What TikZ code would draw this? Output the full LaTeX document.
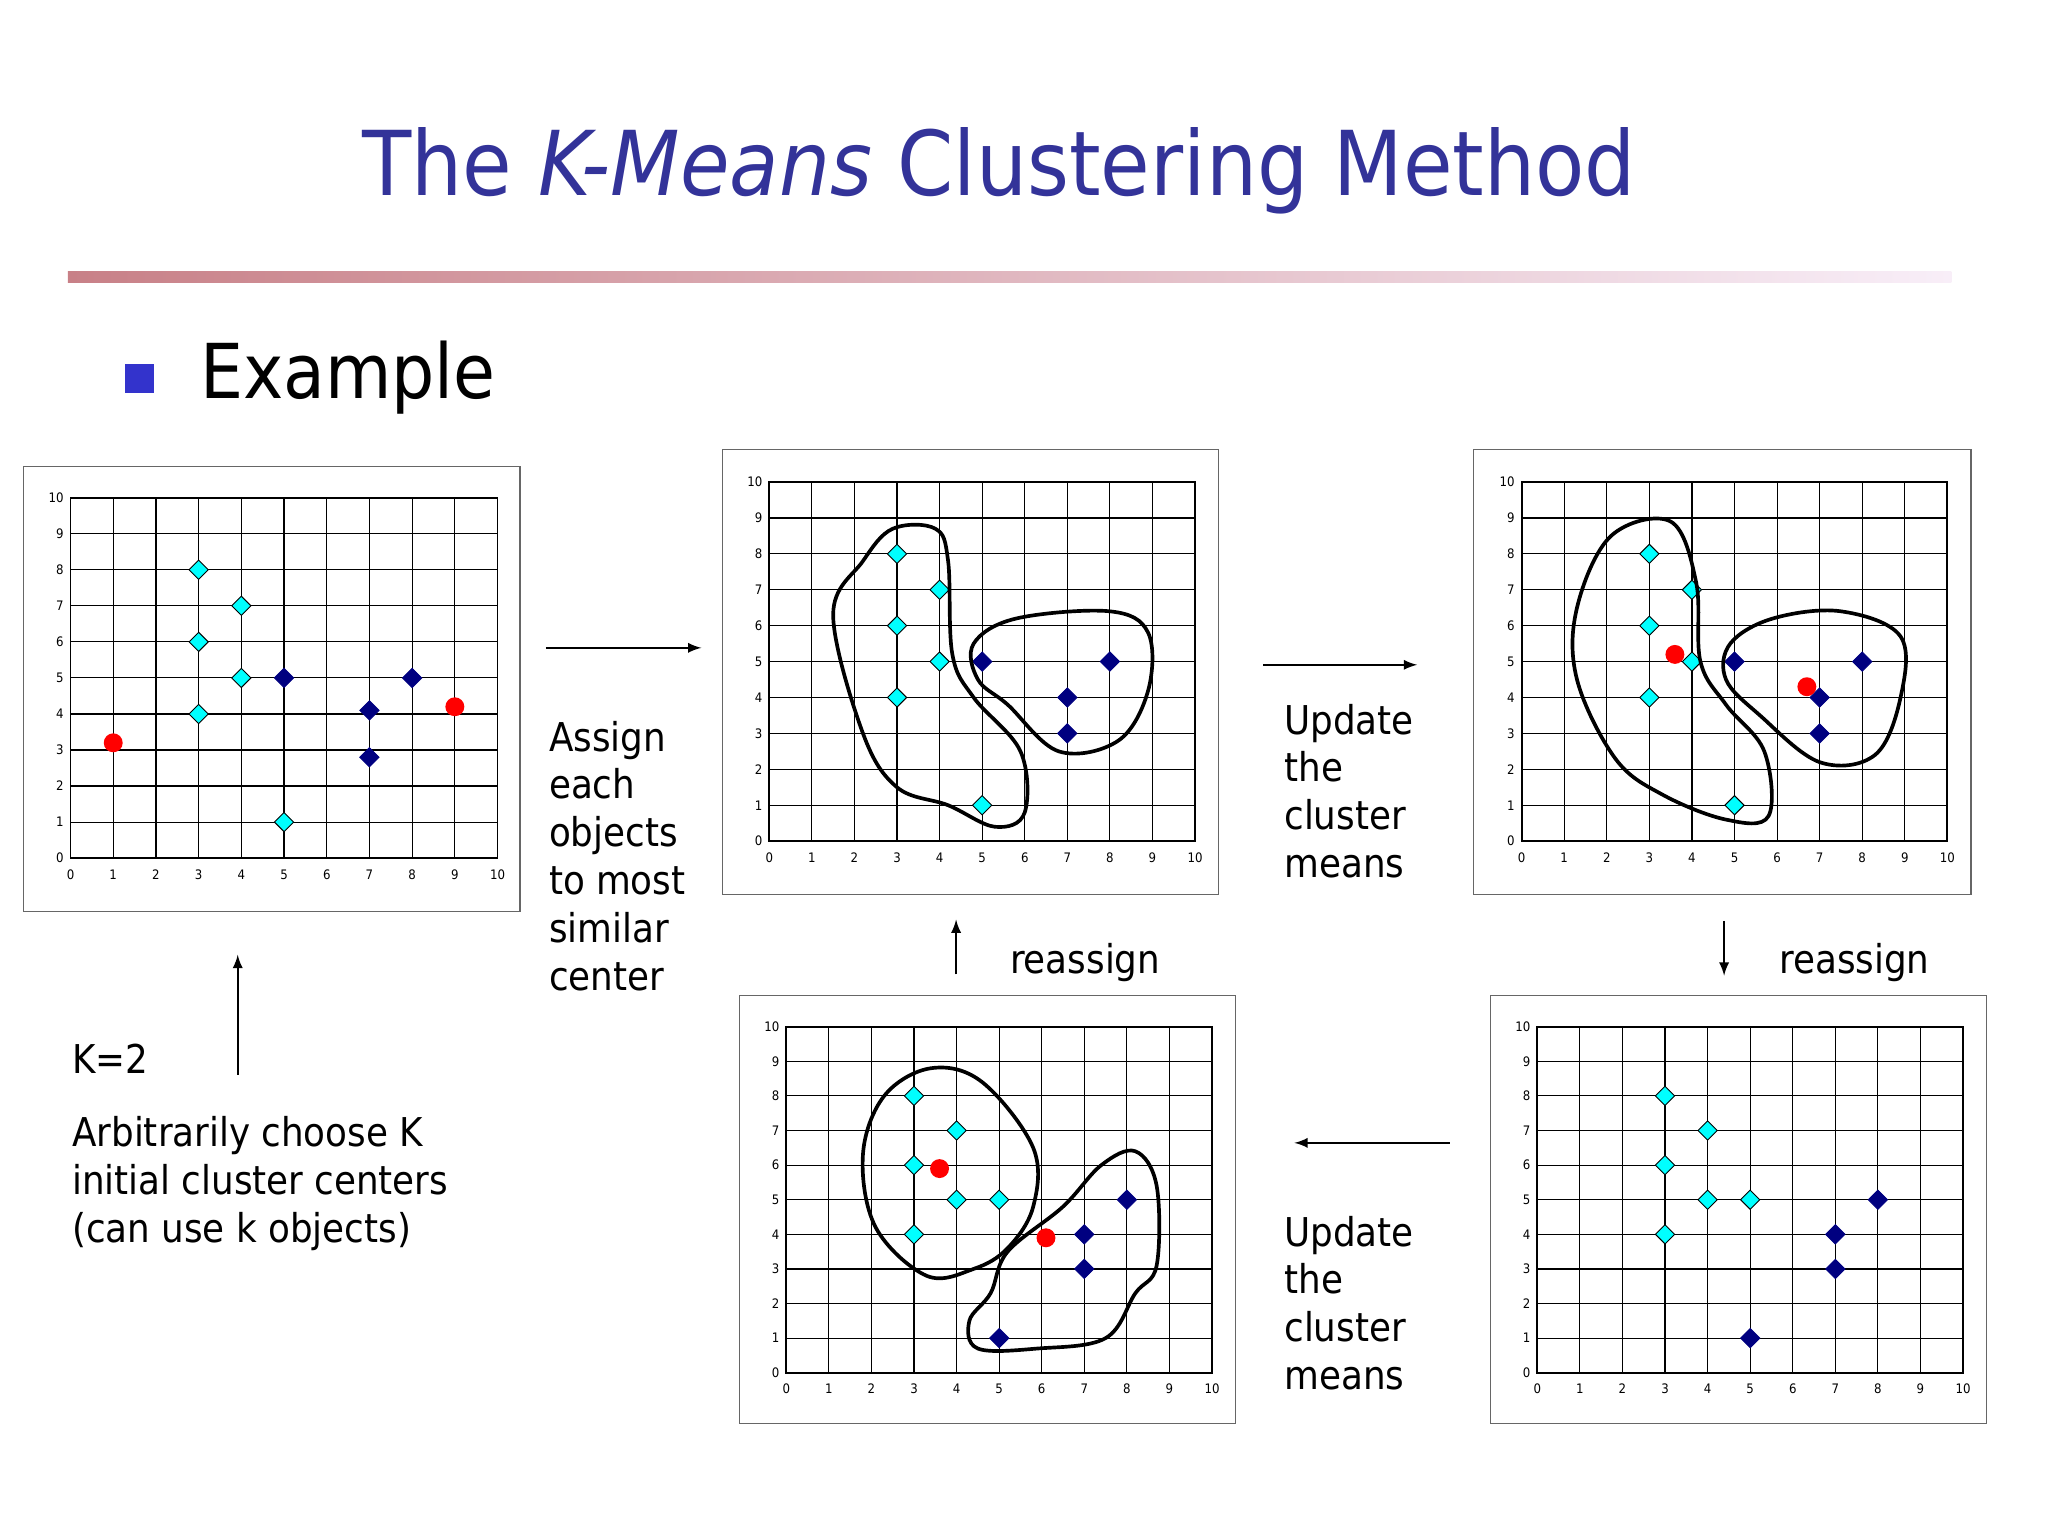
\documentclass[tikz,border=0pt]{standalone}
\usepackage{fontspec}
\setmainfont{DejaVu Sans Condensed}
\usetikzlibrary{shapes.geometric}
\definecolor{ttl}{RGB}{51,51,153}
\definecolor{bul}{RGB}{51,51,204}
\definecolor{cy}{RGB}{0,255,255}
\definecolor{nv}{RGB}{0,0,128}
\definecolor{lnA}{RGB}{200,128,135}
\definecolor{lnB}{RGB}{248,238,248}
\tikzset{
 cyd/.style={diamond,draw=black,fill=cy,inner sep=0pt,minimum size=0.3cm,line width=0.4pt},
 nvd/.style={diamond,draw=nv,fill=nv,inner sep=0pt,minimum size=0.3cm},
 ctr/.style={circle,fill=red,inner sep=0pt,minimum size=0.29cm},
 tick/.style={font=\fontsize{5.7}{6}\selectfont,inner sep=1pt},
 body/.style={font=\fontsize{17.3}{20}\selectfont,anchor=base west,inner sep=0pt},
 arr/.style={-latex,line width=1pt},
 blob/.style={line width=1.6pt},
 frame/.style={draw=black!60,line width=0.6pt}
}
\newcommand\kgrid{%
 \foreach \i in {0,...,10}{\draw[line width=0.5pt] (\i,0)--(\i,10); \draw[line width=0.5pt] (0,\i)--(10,\i);
 \node[tick,anchor=east] (yl\i) at (-0.1,\i) {\i}; \node[tick,anchor=north] (xl\i) at (\i,-0.25) {\i};}%
 \draw[line width=0.8pt] (0,0) rectangle (10,10);}
\newcommand\ptsA{%
 \foreach \a/\b [count=\k] in {3/8,4/7,3/6,4/5,3/4,5/1}{\node[cyd] (c\k) at (\a,\b) {};}}
\newcommand\ptsB{%
 \foreach \a/\b [count=\k] in {3/8,4/7,3/6,4/5,5/5,3/4}{\node[cyd] (c\k) at (\a,\b) {};}
 \foreach \a/\b [count=\k] in {7/4,8/5,7/3,5/1}{\node[nvd] (n\k) at (\a,\b) {};}}
\begin{document}
\begin{tikzpicture}[x=0.02cm,y=-0.02cm]
\useasboundingbox (0,0) rectangle (1568,1176);
\fill[white] (0,0) rectangle (1568,1176);
% title
\node[anchor=base,inner sep=0pt,text=ttl,font=\fontsize{39}{44}\selectfont] (title) at (765,150) {The \textit{K-Means} Clustering Method};
\shade[left color=lnA,right color=lnB] (52,208) rectangle (1494,216);
\fill[bul] (96,279) rectangle (118,301);
\node[anchor=base west,inner sep=0pt,font=\fontsize{33}{40}\selectfont] (ex) at (153,305) {Example};
% plot 1
\draw[frame] (18,357) rectangle (398,698);
\begin{scope}[shift={(54,657)},x=0.654cm,y=0.552cm]
\kgrid
\foreach \a/\b [count=\k] in {3/8,4/7,3/6,4/5,3/4,5/1}{\node[cyd] (c\k) at (\a,\b) {};}
\foreach \a/\b [count=\k] in {5/5,7/4.1,8/5,7/2.8}{\node[nvd] (n\k) at (\a,\b) {};}
\node[ctr] (r1) at (1,3.2) {}; \node[ctr] (r2) at (9,4.2) {};
\end{scope}
% plot 2
\draw[frame] (553,344) rectangle (933,685);
\begin{scope}[shift={(589,644)},x=0.652cm,y=0.55cm]
\kgrid
\ptsA
\foreach \a/\b [count=\k] in {5/5,7/4,8/5,7/3}{\node[nvd] (n\k) at (\a,\b) {};}
\draw[blob] plot[smooth cycle,tension=0.6] coordinates {(1.5,6.3)(2.2,7.8)(2.9,8.7)(3.9,8.7)(4.2,7.8)(4.3,5.2)(4.8,4)(5.9,2.5)(6.0,0.8)(5.3,0.4)(4.2,1)(3,1.5)(2.2,3)};
\draw[blob] plot[smooth cycle,tension=0.6] coordinates {(4.8,5.5)(5.8,6.2)(8,6.4)(8.9,5.8)(8.9,4.2)(8.2,2.8)(6.8,2.5)(5.6,3.8)(4.9,4.5)};
\end{scope}
% plot 3
\draw[frame] (1128,344) rectangle (1509,685);
\begin{scope}[shift={(1165,644)},x=0.652cm,y=0.55cm]
\kgrid
\ptsA
\foreach \a/\b [count=\k] in {5/5,7/4,8/5,7/3}{\node[nvd] (n\k) at (\a,\b) {};}
\draw[blob] plot[smooth cycle,tension=0.6] coordinates {(1.3,6.5)(2.1,8.5)(3.5,8.9)(4.1,7.2)(4.2,5)(4.8,3.8)(5.7,2.5)(5.8,0.7)(4.8,0.6)(3.3,1.3)(2.2,2.3)(1.3,4.5)};
\draw[blob] plot[smooth cycle,tension=0.6] coordinates {(4.9,5.5)(5.9,6.2)(7.5,6.4)(8.9,5.7)(8.9,4)(8.3,2.4)(7,2.2)(5.6,3.5)(4.8,4.5)};
\node[ctr] (r1) at (3.6,5.2) {}; \node[ctr] (r2) at (6.7,4.3) {};
\end{scope}
% plot 4
\draw[frame] (1141,762) rectangle (1521,1090);
\begin{scope}[shift={(1177,1051)},x=0.652cm,y=0.53cm]
\kgrid
\ptsB
\end{scope}
% plot 5
\draw[frame] (566,762) rectangle (946,1090);
\begin{scope}[shift={(602,1051)},x=0.652cm,y=0.53cm]
\kgrid
\ptsB
\draw[blob] plot[smooth cycle,tension=0.6] coordinates {(1.8,6.3)(2.3,8)(3.4,8.8)(4.6,8.4)(5.8,6.5)(5.8,4.8)(5.2,3.6)(4.4,3)(3.3,2.8)(2.1,4.2)};
\draw[blob] plot[smooth cycle,tension=0.6] coordinates {(5.2,3.5)(6.5,4.8)(7.4,6)(8.2,6.4)(8.7,5.4)(8.7,3.1)(8.2,2.3)(7.5,1)(5.9,0.7)(4.5,0.7)(4.3,1.5)(4.8,2.3)};
\node[ctr] (r1) at (3.6,5.9) {}; \node[ctr] (r2) at (6.1,3.9) {};
\end{scope}
% arrows
\coordinate (a1s) at (418,496); \coordinate (a1e) at (537,496);
\coordinate (a2s) at (967,509); \coordinate (a2e) at (1085,509);
\coordinate (a3s) at (182,823); \coordinate (a3e) at (182,731);
\coordinate (a4s) at (732,746); \coordinate (a4e) at (732,704);
\coordinate (a5s) at (1320,705); \coordinate (a5e) at (1320,747);
\coordinate (a6s) at (1110,875); \coordinate (a6e) at (991,875);
\foreach \n in {1,...,6}{\draw[arr] (a\n s) -- (a\n e);}
% texts
\foreach \t [count=\k] in {Assign,each,objects,to most,similar,center}{\node[body] (as\k) at (420,{575+36.6*(\k-1)}) {\t};}
\foreach \t [count=\k] in {Update,the,cluster,means}{\node[body] (ua\k) at (983,{562+36.6*(\k-1)}) {\t};
 \node[body] (ub\k) at (983,{954+36.6*(\k-1)}) {\t};}
\node[body] (re1) at (773,745) {reassign};
\node[body] (re2) at (1362,745) {reassign};
\node[body] (k2) at (55,822) {K=2};
\foreach \t [count=\k] in {Arbitrarily choose K,initial cluster centers,(can use k objects)}{\node[body] (ar\k) at (55,{878+36.6*(\k-1)}) {\t};}
\end{tikzpicture}
\end{document}
